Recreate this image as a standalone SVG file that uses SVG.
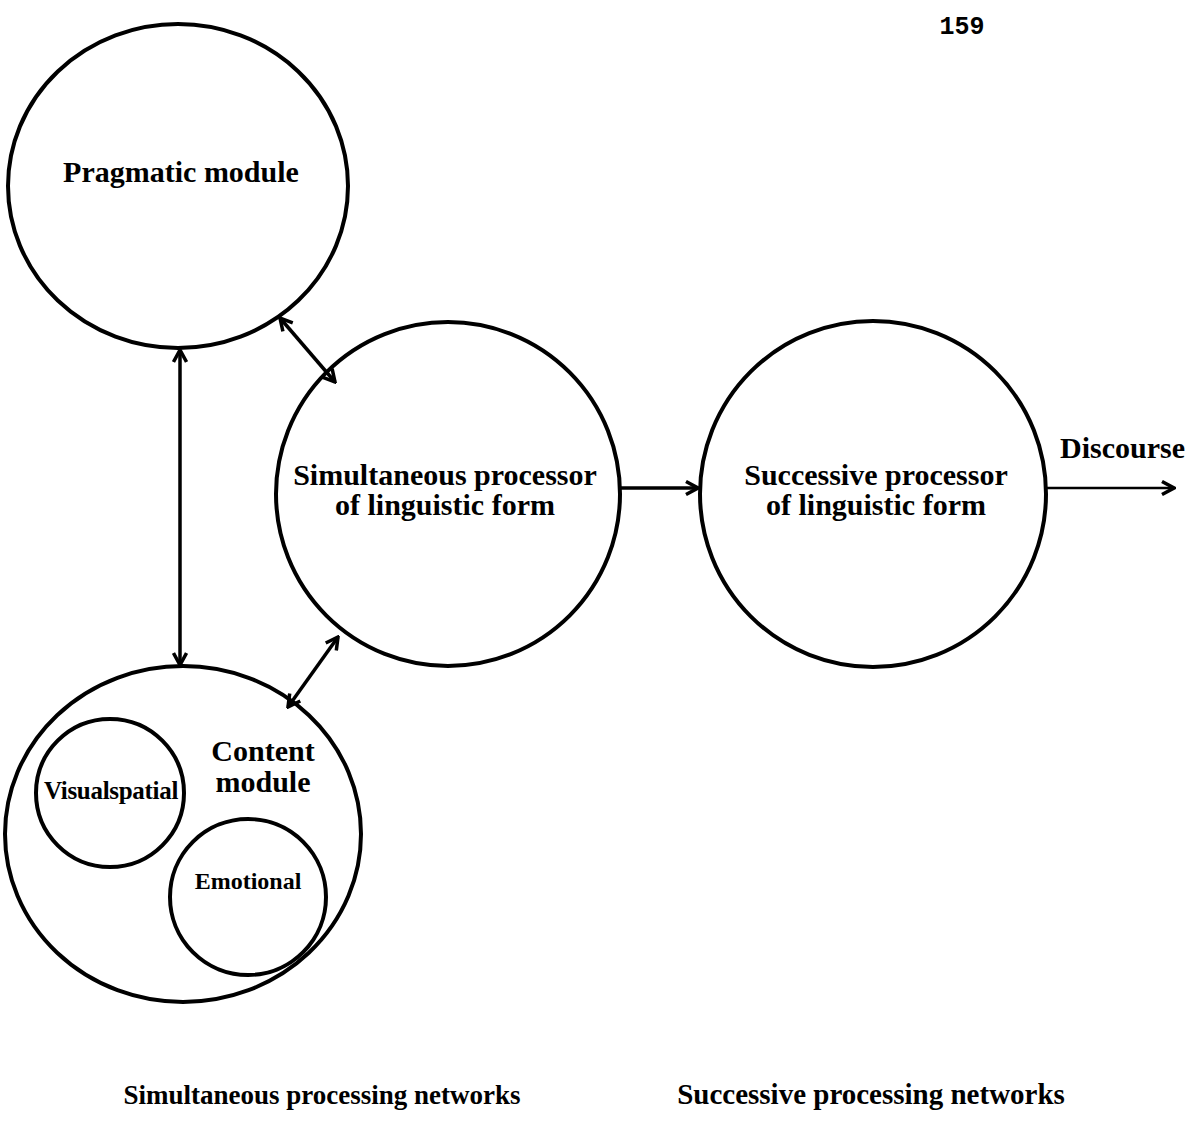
<svg xmlns="http://www.w3.org/2000/svg" width="1199" height="1138" viewBox="0 0 1199 1138">
<style>
.n{fill:none;stroke:#000;stroke-width:4}
.c{fill:none;stroke:#000;stroke-width:3.5}
text{font-family:"Liberation Serif","Times New Roman",serif;font-weight:bold;fill:#000}
.l{font-size:30px;text-anchor:middle}
.b{font-size:27px;text-anchor:middle}
.s{font-size:24px;text-anchor:middle}
</style>
<defs>
<marker id="a" viewBox="0 0 16 16" refX="14" refY="8" markerWidth="16" markerHeight="16" markerUnits="userSpaceOnUse" orient="auto-start-reverse">
<path d="M2,1.5 L14,8 L2,14.5" fill="none" stroke="#000" stroke-width="3.5"/>
</marker>
</defs>
<rect width="1199" height="1138" fill="#fff"/>
<text x="962" y="34" style="font-family:'Liberation Mono','Courier New',monospace;font-size:25px;text-anchor:middle">159</text>
<g id="pragmatic">
<ellipse class="n" cx="178" cy="186" rx="170" ry="162"/>
<text class="l" x="181" y="182">Pragmatic module</text>
</g>
<g id="simultaneous">
<circle class="n" cx="448" cy="494" r="172"/>
<text class="l" x="445" y="485">Simultaneous processor</text>
<text class="l" x="445" y="515">of linguistic form</text>
</g>
<g id="successive">
<circle class="n" cx="873" cy="494" r="173"/>
<text class="l" x="876" y="485">Successive processor</text>
<text class="l" x="876" y="515">of linguistic form</text>
</g>
<g id="content">
<ellipse class="n" cx="183" cy="834" rx="178" ry="168"/>
<text class="l" x="263" y="761">Content</text>
<text class="l" x="263" y="792">module</text>
</g>
<g id="visualspatial">
<circle class="n" cx="110" cy="793" r="74"/>
<text class="s" x="111" y="799" style="font-size:25px;letter-spacing:-0.3px">Visualspatial</text>
</g>
<g id="emotional">
<circle class="n" cx="248" cy="897" r="78"/>
<text class="s" x="248" y="889">Emotional</text>
</g>
<text x="1060" y="458" style="font-size:30px">Discourse</text>
<g id="connectors">
<line class="c" x1="180" y1="350" x2="180" y2="665" marker-start="url(#a)" marker-end="url(#a)"/>
<line class="c" x1="280" y1="318" x2="335" y2="382" marker-start="url(#a)" marker-end="url(#a)"/>
<line class="c" x1="338" y1="637" x2="288" y2="707" marker-start="url(#a)" marker-end="url(#a)"/>
<line class="c" x1="621" y1="488" x2="698" y2="488" marker-end="url(#a)"/>
<line x1="1046" y1="488" x2="1174" y2="488" stroke="#000" stroke-width="2.5" marker-end="url(#a)"/>
</g>
<text class="b" x="322" y="1104">Simultaneous processing networks</text>
<text class="b" x="871" y="1104" style="font-size:29px">Successive processing networks</text>
</svg>
